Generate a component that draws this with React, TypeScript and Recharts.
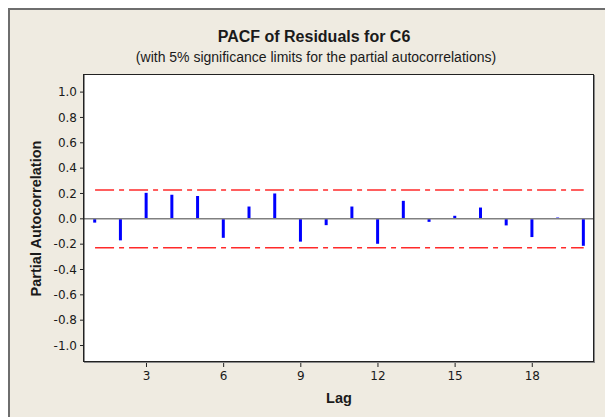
import {
  ComposedChart,
  Bar,
  Line,
  XAxis,
  YAxis,
  CartesianGrid,
  ReferenceLine,
} from 'recharts';

// partial autocorrelation of the residuals, lags 1..20
const lags = [1, 2, 3, 4, 5, 6, 7, 8, 9, 10, 11, 12, 13, 14, 15, 16, 17, 18, 19, 20];
const pacf = [
  -0.03, -0.17, 0.205, 0.19, 0.18, -0.15, 0.097, 0.2, -0.18, -0.05,
  0.097, -0.197, 0.142, -0.024, 0.024, 0.089, -0.052, -0.144, 0.01, -0.213,
];
// 5% significance limit (+/-)
const limit = 0.228;

const xTicks = [3, 6, 9, 12, 15, 18];
const yTicks = [-1.0, -0.8, -0.6, -0.4, -0.2, 0.0, 0.2, 0.4, 0.6, 0.8, 1.0];

const data = lags.map((lag, i) => ({
  lag,
  pacf: pacf[i],
  upper: limit,
  lower: -limit,
}));

const xDomain: [number, number] = [0.57, 20.4];
const yDomain: [number, number] = [-1.13, 1.135];

const font = '"Liberation Sans", Arial, sans-serif';
const tickFont = '"DejaVu Sans", sans-serif';
const ink = '#1a1a1a';

const W = 603;
const H = 407;
const margin = { top: 65, right: 19, bottom: 0, left: 0 };
const yAxisWidth = 74;
const xAxisHeight = 55;

export default function App() {
  return (
    <div
      style={{
        position: 'relative',
        width: W,
        height: H,
        background: '#EFEBE1',
        borderLeft: '2px solid #6e6e6e',
        borderTop: '2px solid #6e6e6e',
        fontFamily: font,
        overflow: 'hidden',
      }}
    >
      <div
        style={{
          position: 'absolute',
          top: 18,
          left: 0,
          width: 608,
          textAlign: 'center',
          fontWeight: 'bold',
          fontSize: 16,
          color: ink,
        }}
      >
        PACF of Residuals for C6
      </div>
      <div
        style={{
          position: 'absolute',
          top: 39,
          left: 0,
          width: 612,
          textAlign: 'center',
          fontSize: 14,
          color: ink,
        }}
      >
        (with 5% significance limits for the partial autocorrelations)
      </div>
      <ComposedChart
        width={W}
        height={H}
        data={data}
        margin={margin}
        style={{ position: 'absolute', top: 0, left: 0 }}
      >
        <CartesianGrid fill="#ffffff" horizontal={false} vertical={false} />
        <XAxis
          dataKey="lag"
          type="number"
          domain={xDomain}
          ticks={xTicks}
          allowDataOverflow
          height={xAxisHeight}
          stroke="#222"
          tickSize={5}
          tickMargin={4}
          tick={{ fontSize: 12, fill: ink, fontFamily: tickFont }}
          label={{
            value: 'Lag',
            position: 'insideBottom',
            offset: 14,
            style: { fontSize: 14.5, fontWeight: 'bold', fill: ink, fontFamily: font },
          }}
        />
        <YAxis
          type="number"
          domain={yDomain}
          ticks={yTicks}
          allowDataOverflow
          width={yAxisWidth}
          stroke="#222"
          tickSize={4}
          tickMargin={3}
          tickFormatter={(v: number) => v.toFixed(1)}
          tick={{ fontSize: 12, fill: ink, fontFamily: tickFont }}
          label={{
            value: 'Partial Autocorrelation',
            angle: -90,
            position: 'insideLeft',
            offset: 26,
            style: {
              textAnchor: 'middle',
              fontSize: 14.5,
              fontWeight: 'bold',
              fill: ink,
              fontFamily: font,
            },
          }}
        />
        <ReferenceLine y={0} stroke="#808080" strokeWidth={1.5} />
        <Line
          dataKey="upper"
          stroke="#ff2a2a"
          strokeWidth={1.5}
          strokeDasharray="19 5 5 5"
          dot={false}
          isAnimationActive={false}
        />
        <Line
          dataKey="lower"
          stroke="#ff2a2a"
          strokeWidth={1.5}
          strokeDasharray="19 5 5 5"
          dot={false}
          isAnimationActive={false}
        />
        <Bar dataKey="pacf" fill="#0000ff" barSize={3} isAnimationActive={false} />
      </ComposedChart>
      {/* frame around the data region */}
      <div
        style={{
          position: 'absolute',
          left: margin.left + yAxisWidth - 1,
          top: margin.top - 1,
          width: W - margin.left - margin.right - yAxisWidth + 1,
          height: H - margin.top - margin.bottom - xAxisHeight + 1,
          border: '1px solid #222',
          boxShadow: '1px 1px 0 #8a8a8a',
          boxSizing: 'border-box',
          pointerEvents: 'none',
        }}
      />
    </div>
  );
}
